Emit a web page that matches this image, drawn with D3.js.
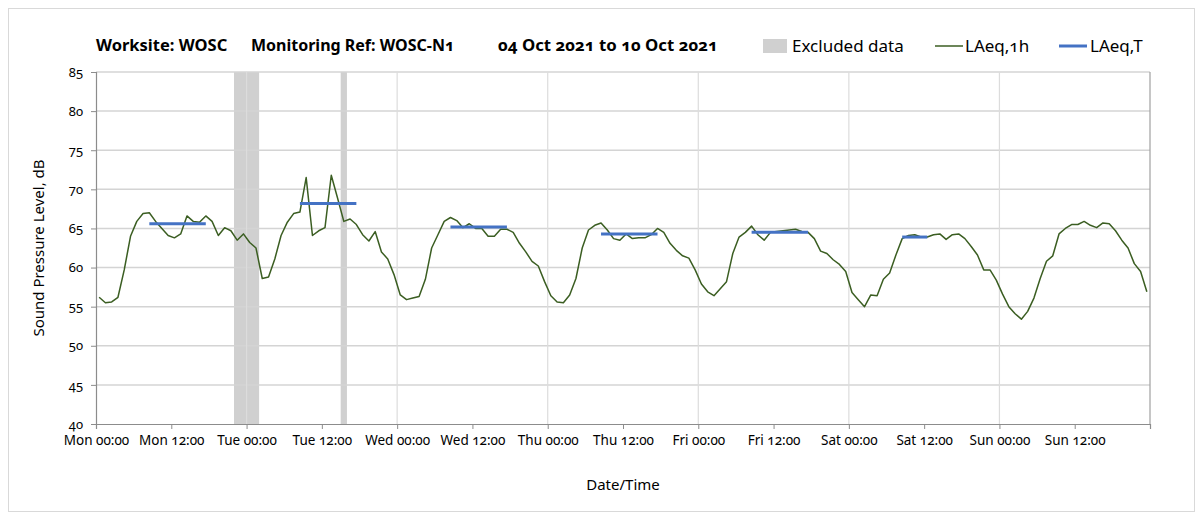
<!DOCTYPE html>
<html><head><meta charset="utf-8">
<script src="https://cdn.jsdelivr.net/npm/d3@7"></script>
<style>
body{margin:0;background:#fff;}
svg text{font-family:"Noto Sans","Open Sans",sans-serif;font-variant-numeric:oldstyle-nums;fill:#000;}
</style></head>
<body><svg id="c" width="1203" height="520"></svg>
<script>
// ---- data ----
const titleParts = ["Worksite: WOSC", "Monitoring Ref: WOSC-N1", "04 Oct 2021 to 10 Oct 2021"];
const tickLabels = ["Mon 00:00","Mon 12:00","Tue 00:00","Tue 12:00","Wed 00:00","Wed 12:00","Thu 00:00","Thu 12:00","Fri 00:00","Fri 12:00","Sat 00:00","Sat 12:00","Sun 00:00","Sun 12:00"];
const tickHours = [0,12,24,36,48,60,72,84,96,108,120,132,144,156,168];
// hourly LAeq,1h values (hour index 0..167 from Mon 00:00)
const laeq1h = [
 56.2,55.5,55.6,56.2,59.7,64.0,65.9,66.9,67.0,65.9,65.0,64.1,63.8,64.3,66.6,65.9,65.8,66.6,65.9,64.1,65.1,64.7,63.5,64.3,
 63.2,62.5,58.6,58.8,61.1,64.1,65.8,66.9,67.1,71.5,64.1,64.7,65.1,71.8,68.9,65.9,66.2,65.5,64.2,63.4,64.6,62.0,61.1,59.1,
 56.5,55.9,56.1,56.3,58.5,62.5,64.2,65.9,66.4,66.0,65.1,65.6,65.0,65.0,64.0,64.0,64.9,64.9,64.5,63.1,62.0,60.8,60.2,58.2,
 56.4,55.6,55.5,56.5,58.6,62.5,64.8,65.4,65.7,64.8,63.7,63.5,64.3,63.7,63.8,63.8,64.2,65.0,64.5,63.1,62.2,61.5,61.2,59.7,
 57.9,56.9,56.4,57.3,58.2,61.8,63.9,64.5,65.3,64.2,63.5,64.5,64.6,64.7,64.8,64.9,64.6,64.5,63.7,62.1,61.8,61.0,60.4,59.5,
 56.8,55.9,55.0,56.5,56.4,58.5,59.3,61.6,63.7,64.1,64.2,63.9,63.9,64.2,64.3,63.6,64.2,64.3,63.7,62.7,61.6,59.7,59.7,58.4,
 56.6,55.0,54.1,53.4,54.4,56.1,58.6,60.8,61.5,64.3,65.0,65.5,65.5,65.9,65.4,65.1,65.7,65.6,64.7,63.5,62.5,60.5,59.5,56.9
];
// LAeq,T periods: first and last hour index, value
const periodStart = [8, 32, 56, 80, 104, 128];
const periodEnd   = [17, 41, 65, 89, 113, 132];
const periodValue = [65.6, 68.2, 65.2, 64.3, 64.5, 63.9];
// excluded data periods (hours from Mon 00:00)
const exclStart = [22, 39];
const exclEnd   = [26, 40];
const yTicks = [40,45,50,55,60,65,70,75,80,85];
const legendLabels = ["Excluded data","LAeq,1h","LAeq,T"];

// ---- drawing ----
const svg = d3.select("#c");
const L=96, R=1150, T=72, B=424;
const x = d3.scaleLinear().domain([0,168]).range([L,R]);
const y = d3.scaleLinear().domain([40,85]).range([B,T]);
const green="#3b5e22", blue="#4472c4", grey="#d0d0d0";

svg.append("rect").attr("x",8.5).attr("y",8.5).attr("width",1186).attr("height",503)
  .attr("fill","#fff").attr("stroke","#d9d9d9");

// excluded bands
svg.append("g").selectAll("rect").data(exclStart).join("rect")
  .attr("x",(d)=>x(d)).attr("width",(d,i)=>x(exclEnd[i])-x(d))
  .attr("y",T).attr("height",B-T).attr("fill",grey);

// horizontal gridlines
svg.append("g").selectAll("line").data(yTicks.filter(v=>v>40)).join("line")
  .attr("x1",L).attr("x2",R).attr("y1",d=>y(d)).attr("y2",d=>y(d))
  .attr("stroke","#d4d4d4").attr("stroke-width",1.5);
// vertical gridlines at midnight
svg.append("g").selectAll("line").data(tickHours.filter(h=>h%24===0 && h>0 && h<168)).join("line")
  .attr("x1",d=>x(d)).attr("x2",d=>x(d)).attr("y1",T).attr("y2",B)
  .attr("stroke","#dcdcdc").attr("stroke-width",1.2);
// right border
svg.append("line").attr("x1",R).attr("x2",R).attr("y1",T).attr("y2",B).attr("stroke","#a0a0a0").attr("stroke-width",1.2);

// axes
const yAxis = d3.axisLeft(y).tickValues(yTicks).tickSize(5).tickPadding(8).tickFormat(d=>d);
const gy = svg.append("g").attr("transform",`translate(${L},0)`).call(yAxis);
gy.select(".domain").attr("stroke","#8c8c8c").attr("stroke-width",1.2);
gy.selectAll(".tick line").attr("stroke","#8c8c8c");
gy.selectAll("text").attr("font-size",13).style("font-family",'"Noto Sans",sans-serif');

const xAxis = d3.axisBottom(x).tickValues(tickHours).tickSize(5).tickPadding(6)
  .tickFormat((d,i)=>tickLabels[i]||"");
const gx = svg.append("g").attr("transform",`translate(0,${B})`).call(xAxis);
gx.select(".domain").attr("stroke","#8c8c8c").attr("stroke-width",1.2);
gx.selectAll(".tick line").attr("stroke","#8c8c8c");
gx.selectAll("text").attr("font-size",13.5).style("font-family",'"Noto Sans",sans-serif');

// LAeq,1h line
const line = d3.line().x((d,i)=>x(i+0.5)).y(d=>y(d));
svg.append("path").datum(laeq1h).attr("d",line).attr("fill","none")
  .attr("stroke",green).attr("stroke-width",1.5).attr("stroke-linejoin","round");

// LAeq,T segments
svg.append("g").selectAll("line").data(periodValue).join("line")
  .attr("x1",(d,i)=>x(periodStart[i]+0.5)).attr("x2",(d,i)=>x(periodEnd[i]+0.5))
  .attr("y1",d=>y(d)).attr("y2",d=>y(d)).attr("stroke",blue).attr("stroke-width",3);

// title
const tx=[96,251,498];
const tfs=[16.5,16,16.8];
svg.append("g").selectAll("text").data(titleParts).join("text")
  .attr("x",(d,i)=>tx[i]).attr("y",51).attr("font-size",(d,i)=>tfs[i]).attr("font-weight","bold").text(d=>d);

// legend
const lg = svg.append("g");
lg.append("rect").attr("x",763).attr("y",39).attr("width",24).attr("height",14).attr("fill",grey);
lg.append("text").attr("x",792).attr("y",52).attr("font-size",17).text(legendLabels[0]);
lg.append("line").attr("x1",935).attr("x2",963).attr("y1",46).attr("y2",46).attr("stroke",green).attr("stroke-width",1.5);
lg.append("text").attr("x",965).attr("y",52).attr("font-size",17).text(legendLabels[1]);
lg.append("line").attr("x1",1059).attr("x2",1087).attr("y1",46).attr("y2",46).attr("stroke",blue).attr("stroke-width",3);
lg.append("text").attr("x",1090).attr("y",52).attr("font-size",17).text(legendLabels[2]);

// axis titles
svg.append("text").attr("transform",`translate(44,${(T+B)/2}) rotate(-90)`).attr("text-anchor","middle")
  .attr("font-size",15).text("Sound Pressure Level, dB");
svg.append("text").attr("x",(L+R)/2).attr("y",490).attr("text-anchor","middle").attr("font-size",15).text("Date/Time");
</script></body></html>
